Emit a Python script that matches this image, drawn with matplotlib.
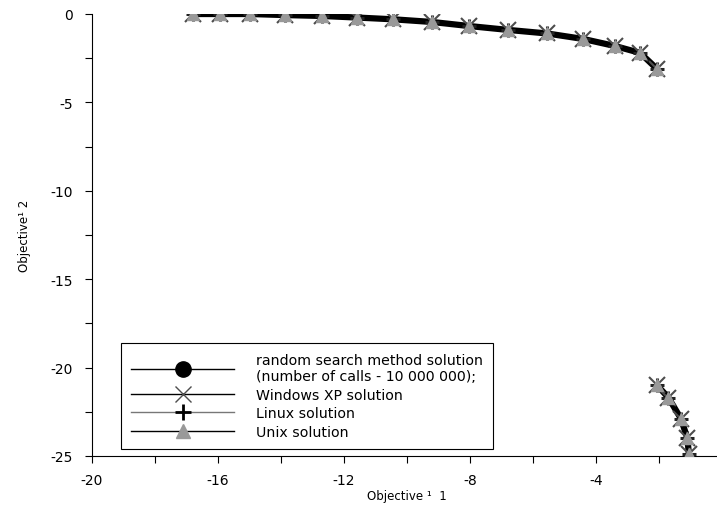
import matplotlib.pyplot as plt
from matplotlib.lines import Line2D

plt.rcParams['font.family'] = ['DejaVu Sans']
plt.rcParams['axes.unicode_minus'] = False

# Pareto front (upper and lower branch)
obj1_top = [-16.8, -15.94, -14.98, -13.87, -12.70, -11.59, -10.44, -9.21,
            -8.03, -6.79, -5.56, -4.41, -3.40, -2.60, -2.06]
obj2_top = [0.0, 0.0, 0.0, -0.06, -0.11, -0.2, -0.3, -0.45,
            -0.68, -0.9, -1.1, -1.41, -1.81, -2.2, -3.11]
obj1_bot = [-2.06, -1.7, -1.3, -1.1, -1.05]
obj2_bot = [-21.0, -21.7, -22.9, -24.0, -24.9]

labels = ['random search method solution\n(number of calls - 10 000 000);',
          'Windows XP solution', 'Linux solution', 'Unix solution']
xticks = [-20, -16, -12, -8, -4, 0]
xticklabels = ['-20', '-16', '-12', '-8', '-4', '']

fig = plt.figure(figsize=(7.17, 5.06), dpi=100)
ax = fig.add_axes([92 / 717, 1 - 457 / 506, 630 / 717, 442 / 506])

for xs, ys in [(obj1_top, obj2_top), (obj1_bot, obj2_bot)]:
    # random search: thick black line
    ax.plot(xs, ys, color='black', lw=4.5, solid_capstyle='round', zorder=2)
    ax.plot(xs, ys, ls='none', marker='x', ms=11, mew=1.5, color='#4d4d4d', zorder=3)
    ax.plot(xs, ys, ls='none', marker='+', ms=10, mew=2.2, color='#222222', zorder=4)
    ax.plot(xs, ys, ls='none', marker='^', ms=9, color='#999999', mec='#999999', zorder=5)

ax.set_xlim(-20, 0)
ax.set_ylim(-25, 0)
ax.set_xticks(xticks)
ax.set_xticklabels(xticklabels)
ax.set_xticks([-18, -14, -10, -6, -2], minor=True)
ax.set_yticks([0, -5, -10, -15, -20, -25])
ax.set_yticks([-2.5, -7.5, -12.5, -17.5, -22.5], minor=True)
ax.tick_params(which='both', direction='out', length=5, width=0.8, labelsize=10)
ax.tick_params(axis='y', pad=9)
ax.tick_params(axis='x', pad=7)
for s in ['top', 'right']:
    ax.spines[s].set_visible(False)
for s in ['left', 'bottom']:
    ax.spines[s].set_linewidth(0.8)

ax.set_xlabel('Objective \u00b9  1', fontsize=8.5, labelpad=2)
ax.set_ylabel('Objective\u00b9 2', fontsize=8.5, labelpad=14)

handles = [
    Line2D([], [], color='black', lw=1, marker='o', ms=11),
    Line2D([], [], color='black', lw=1, marker='x', ms=11, mew=1, mec='#4d4d4d'),
    Line2D([], [], color='#777777', lw=1, marker='+', ms=12, mew=2, mec='black'),
    Line2D([], [], color='black', lw=1, marker='^', ms=10, mfc='#999999', mec='#999999'),
]
leg = ax.legend(handles, labels, loc='upper left', bbox_to_anchor=(121 / 717, 1 - 344 / 506),
                bbox_transform=fig.transFigure, borderaxespad=0, fontsize=10.2,
                handlelength=7.3, handletextpad=1.5, labelspacing=0.32, borderpad=0.7,
                fancybox=False, framealpha=1, edgecolor='black')
leg.get_frame().set_linewidth(0.8)

plt.savefig('out.png', dpi=100)
